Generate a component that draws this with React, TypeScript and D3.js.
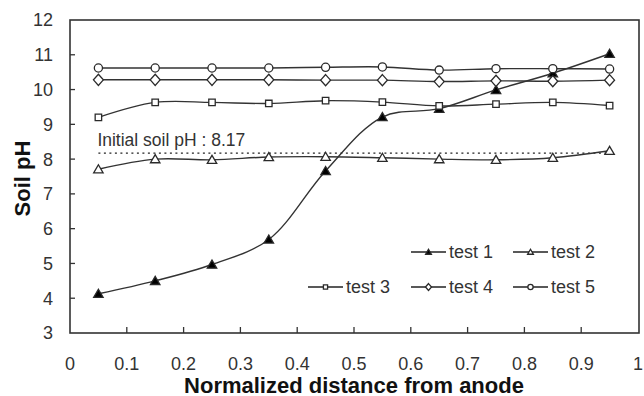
import React from "react";
import * as d3 from "d3";

const xValues = [0.05, 0.15, 0.25, 0.35, 0.45, 0.55, 0.65, 0.75, 0.85, 0.95];
const test1 = [4.13, 4.5, 4.97, 5.69, 7.66, 9.21, 9.45, 9.99, 10.47, 11.03];
const test2 = [7.71, 8.0, 7.98, 8.06, 8.07, 8.04, 8.0, 7.98, 8.04, 8.24];
const test3 = [9.2, 9.63, 9.63, 9.6, 9.68, 9.64, 9.53, 9.58, 9.63, 9.54];
const test4 = [10.28, 10.28, 10.28, 10.28, 10.27, 10.27, 10.23, 10.25, 10.24, 10.27];
const test5 = [10.62, 10.62, 10.62, 10.62, 10.64, 10.65, 10.56, 10.6, 10.6, 10.59];
const seriesNames = ["test 1", "test 2", "test 3", "test 4", "test 5"];
const seriesMarkers = ["triFilled", "triOpen", "square", "diamond", "circle"];
const seriesData = [test1, test2, test3, test4, test5];
const xTicks = [0, 0.1, 0.2, 0.3, 0.4, 0.5, 0.6, 0.7, 0.8, 0.9, 1];
const yTicks = [3, 4, 5, 6, 7, 8, 9, 10, 11, 12];
const initialPH = 8.17;
const initialLabel = "Initial soil pH : 8.17";
const xTitle = "Normalized distance from anode";
const yTitle = "Soil pH";

const W = 644;
const H = 396;
const L = 70;
const R = 638;
const T = 20;
const B = 333;
const ink = "#2a2a2a";
const FONT = "Arial, 'Liberation Sans', sans-serif";

function markerPath(kind: string, cx: number, cy: number, s: number): string {
  switch (kind) {
    case "triFilled":
    case "triOpen": {
      const w = s * 1.05, h = s * 0.9;
      return `M${cx},${cy - h * 0.55}L${cx + w / 2},${cy + h * 0.45}L${cx - w / 2},${cy + h * 0.45}Z`;
    }
    case "square": {
      const a = s * 0.38;
      return `M${cx - a},${cy - a}H${cx + a}V${cy + a}H${cx - a}Z`;
    }
    case "diamond": {
      const a = s * 0.55, b = s * 0.62;
      return `M${cx},${cy - b}L${cx + a},${cy}L${cx},${cy + b}L${cx - a},${cy}Z`;
    }
    default:
      return "";
  }
}

function Marker({ kind, cx, cy, s }: { kind: string; cx: number; cy: number; s: number }) {
  if (kind === "circle") {
    return <circle cx={cx} cy={cy} r={s * 0.48} fill="#fff" stroke={ink} strokeWidth={1.3} />;
  }
  return (
    <path
      d={markerPath(kind, cx, cy, s)}
      fill={kind === "triFilled" ? "#000" : "#fff"}
      stroke={ink}
      strokeWidth={1.3}
      strokeLinejoin="miter"
    />
  );
}

export default function App() {
  const x = d3.scaleLinear().domain([0, 1]).range([L, R]);
  const y = d3.scaleLinear().domain([3, 12]).range([B, T]);
  const line = d3
    .line<[number, number]>()
    .x((d) => x(d[0]))
    .y((d) => y(d[1]))
    .curve(d3.curveCatmullRom.alpha(0.5));

  const legendCols = [305, 408, 510];
  const legendItems = [
    { i: 0, col: 1, row: 0 },
    { i: 1, col: 2, row: 0 },
    { i: 2, col: 0, row: 1 },
    { i: 3, col: 1, row: 1 },
    { i: 4, col: 2, row: 1 },
  ];
  const legendRows = [252, 287];

  return (
    <svg
      width={W}
      height={H}
      viewBox={`0 0 ${W} ${H}`}
      style={{ position: "absolute", left: 0, top: 0, background: "#fff" }}
      fontFamily={FONT}
    >
      <rect x={0} y={0} width={W} height={H} fill="#fff" />
      {/* plot border */}
      <rect x={L} y={T} width={R - L + 1} height={B - T} fill="none" stroke="#333" strokeWidth={1.6} />
      {/* y ticks */}
      {yTicks.map((t) => (
        <g key={"y" + t}>
          {t > 3 && t < 12 && <line x1={L} x2={L + 5} y1={y(t)} y2={y(t)} stroke="#333" strokeWidth={1.3} />}
          <text x={53} y={y(t)} dy="0.36em" textAnchor="end" fontSize={18} fill="#333">
            {t}
          </text>
        </g>
      ))}
      {/* x ticks */}
      {xTicks.map((t) => (
        <g key={"x" + t}>
          {t > 0 && t < 1 && <line x1={x(t)} x2={x(t)} y1={B} y2={B - 6} stroke="#333" strokeWidth={1.3} />}
          <text x={x(t)} y={369.5} textAnchor="middle" fontSize={18} fill="#333">
            {t}
          </text>
        </g>
      ))}
      {/* axis titles */}
      <text x={354} y={392.5} textAnchor="middle" fontSize={22} fontWeight="bold" fill="#111">
        {xTitle}
      </text>
      <text
        transform={`translate(30, ${(T + B) / 2 + 2}) rotate(-90)`}
        textAnchor="middle"
        fontSize={22}
        fontWeight="bold"
        fill="#111"
      >
        {yTitle}
      </text>
      {/* initial pH dotted line */}
      <line
        x1={x(xValues[0])}
        x2={x(xValues[xValues.length - 1])}
        y1={y(initialPH)}
        y2={y(initialPH)}
        stroke="#222"
        strokeWidth={1.3}
        strokeDasharray="2,3.5"
      />
      <text x={x(xValues[0]) - 1} y={146} fontSize={17.5} fill="#333">
        {initialLabel}
      </text>
      {/* series lines */}
      {seriesData.map((vals, si) => (
        <path
          key={"l" + si}
          d={line(xValues.map((xv, i) => [xv, vals[i]] as [number, number])) || ""}
          fill="none"
          stroke="#333"
          strokeWidth={1.4}
        />
      ))}
      {/* markers */}
      {seriesData.map((vals, si) => (
        <g key={"m" + si}>
          {vals.map((v, i) => (
            <Marker key={i} kind={seriesMarkers[si]} cx={x(xValues[i])} cy={y(v)} s={si === 2 ? 8.5 : si === 4 ? 8.5 : 9} />
          ))}
        </g>
      ))}
      {/* legend */}
      {legendItems.map(({ i, col, row }) => {
        const lx = legendCols[col];
        const ly = legendRows[row];
        return (
          <g key={"lg" + i}>
            <line x1={lx + 3} x2={lx + 38} y1={ly} y2={ly} stroke="#222" strokeWidth={1.4} />
            <Marker kind={seriesMarkers[i]} cx={lx + 20.5} cy={ly} s={5.5} />
            <text x={lx + 41} y={ly} dy="0.36em" fontSize={18} fill="#333">
              {seriesNames[i]}
            </text>
          </g>
        );
      })}
    </svg>
  );
}
